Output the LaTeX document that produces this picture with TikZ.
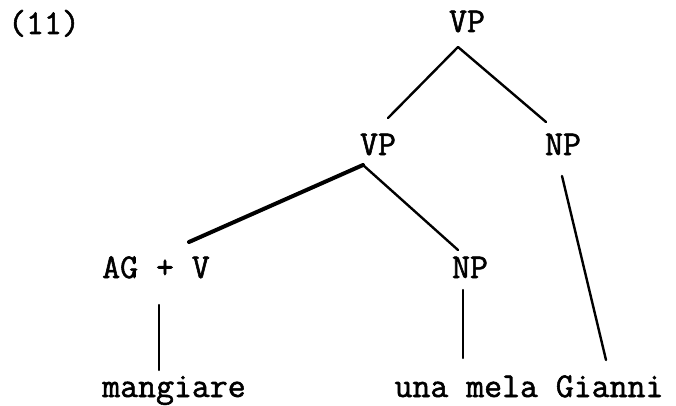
\documentclass[tikz,border=0pt]{standalone}
\usepackage{fontspec}
\newfontfamily\twfont{Latin Modern Mono}[FakeBold=1.6]
\begin{document}
\begin{tikzpicture}[x=1pt,y=-1pt,
  lbl/.style={anchor=base,inner sep=0pt,font=\fontsize{34.8}{36}\selectfont\twfont},
  branch/.style={line width=2.4pt,line cap=round,line join=round},
  thickbranch/.style={line width=4pt,line cap=round,line join=round}]
\useasboundingbox (0,0) rectangle (676,406);
\node[lbl] (num) at (44,34) {(11)};
\node[lbl] (vp1) at (467,32) {VP};
\node[lbl] (vp2) at (378,155) {VP};
\node[lbl] (np1) at (563,155) {NP};
\node[lbl] (agv) at (156,278) {AG + V};
\node[lbl] (np2) at (470,278) {NP};
\node[lbl] (mang) at (174,397) {mangiare};
\node[lbl] (una) at (529,397) {una mela Gianni};
% connector ends
\coordinate (vp1b) at (458,47);
\coordinate (vp2t) at (388,118);
\coordinate (np1t) at (546,122);
\coordinate (vp2b) at (363,165);
\coordinate (agvt) at (189,242);
\coordinate (np2t) at (458,250);
\coordinate (np1b) at (562,176);
\coordinate (gian) at (606,360);
\coordinate (agvb) at (159,305);
\coordinate (mangt) at (159,370);
\coordinate (np2b) at (463,290);
\coordinate (unat) at (463,358);
\draw[branch] (vp1b) -- (vp2t);
\draw[branch] (vp1b) -- (np1t);
\draw[thickbranch] (vp2b) -- (agvt);
\draw[branch] (vp2b) -- (np2t);
\draw[branch] (np1b) -- (gian);
\draw[branch] (agvb) -- (mangt);
\draw[branch] (np2b) -- (unat);
\end{tikzpicture}
\end{document}
